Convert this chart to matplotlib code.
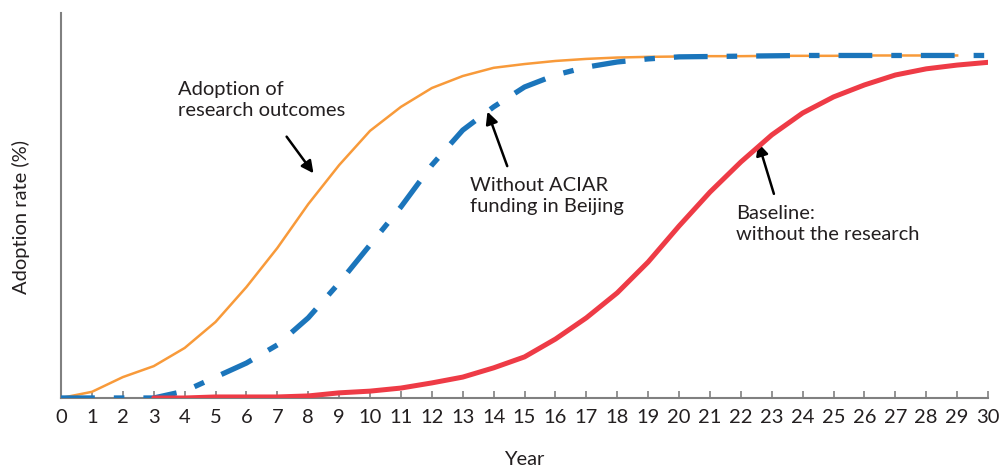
import matplotlib
matplotlib.use('Agg')
import matplotlib.pyplot as plt

# Data (adoption rate, % of ceiling)
years = list(range(0, 31))

research = [0, 1.8, 6.1, 9.3, 14.6, 22.2, 32.4, 43.8, 56.6, 68.0, 78.0,
            85.0, 90.5, 94.0, 96.4, 97.5, 98.4, 99.0, 99.4, 99.6, 99.7,
            99.8, 99.8, 99.9, 99.9, 99.9, 100, 100, 100, 100]
research_years = years[:30]

no_aciar = [0, 0, 0, 0, 2.0, 6.1, 10.2, 15.5, 23.4, 33.6, 44.7,
            55.8, 68.0, 78.2, 85.0, 90.8, 94.3, 96.6, 98.1, 99.0, 99.6,
            99.7, 99.8, 99.9, 100, 100, 100, 100, 100, 100, 100]

baseline_years = years[3:]
baseline = [0, 0, 0.3, 0.3, 0.3, 0.6, 1.5, 2.0, 2.9, 4.4, 6.1,
            8.8, 12.0, 17.2, 23.4, 30.7, 39.7, 50.2, 60.1, 68.9, 76.8,
            83.2, 87.9, 91.4, 94.3, 96.1, 97.2, 98.0]

plt.rcParams['font.family'] = ['Lato', 'DejaVu Sans']
text_color = '#231f20'
axis_gray = '#808080'
fs = 14.5

fig = plt.figure(figsize=(10.04, 4.68), dpi=100)
ax = fig.add_axes([0.0608, 0.1496, 0.9233, 0.8226])

ax.plot(research_years, research, color='#f89a3a', lw=1.8, zorder=2)
ax.plot(years, no_aciar, color='#1b75bb', lw=3.8,
        linestyle=(0, (6.4, 3.6, 2.0, 3.6)), zorder=3)
ax.plot(baseline_years, baseline, color='#ee3b46', lw=3.6,
        solid_capstyle='round', zorder=4)

ax.set_xlim(0, 30)
ax.set_ylim(0, 112.4)
ax.set_xticks(years)
ax.set_yticks([])
ax.tick_params(axis='x', direction='in', length=5, width=1.2, color=axis_gray,
               labelsize=fs, labelcolor=text_color, pad=8)
for side in ['top', 'right']:
    ax.spines[side].set_visible(False)
for side in ['left', 'bottom']:
    ax.spines[side].set_color(axis_gray)
    ax.spines[side].set_linewidth(1.5)

ax.set_xlabel('Year', fontsize=fs, color=text_color, labelpad=18)
ax.set_ylabel('Adoption rate (%)', fontsize=fs, color=text_color)
ax.yaxis.set_label_coords(-0.034, 0.47)

arrow = dict(arrowstyle='-|>', color='black', lw=1.8, mutation_scale=18,
             shrinkA=0, shrinkB=0)
ax.annotate('', xy=(8.17, 65.6), xytext=(7.30, 76.3), arrowprops=arrow)
ax.annotate('', xy=(13.80, 83.6), xytext=(14.44, 67.7), arrowprops=arrow)
ax.annotate('', xy=(22.57, 74.4), xytext=(23.07, 59.6), arrowprops=arrow)

ax.text(3.79, 87.0, 'Adoption of\nresearch outcomes', fontsize=fs,
        color=text_color, ha='left', va='center', linespacing=1.25)
ax.text(13.24, 59.0, 'Without ACIAR\nfunding in Beijing', fontsize=fs,
        color=text_color, ha='left', va='center', linespacing=1.25)
ax.text(21.84, 50.8, 'Baseline:\nwithout the research', fontsize=fs,
        color=text_color, ha='left', va='center', linespacing=1.25)

fig.savefig('out.png', dpi=100)
